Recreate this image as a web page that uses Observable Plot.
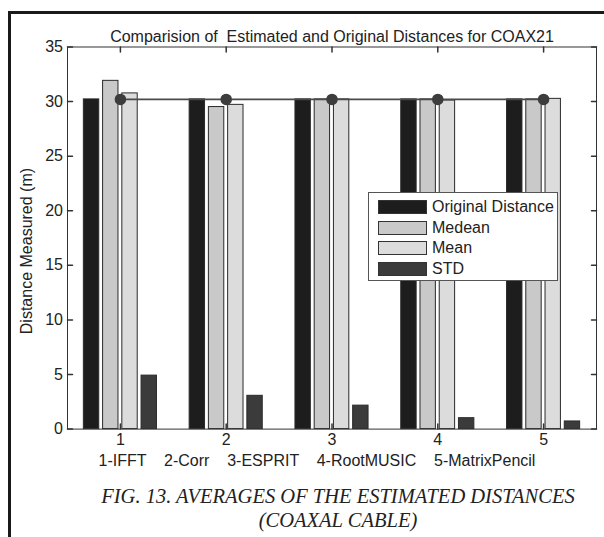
<!DOCTYPE html>
<html>
<head>
<meta charset="utf-8">
<script src="https://cdn.jsdelivr.net/npm/d3@7"></script>
<script src="https://cdn.jsdelivr.net/npm/@observablehq/plot@0.6"></script>
<style>
  body { margin: 0; background: #fff; }
  #page { position: relative; width: 604px; height: 537px; overflow: hidden; background: #fff;
          font-family: "Liberation Sans", Arial, sans-serif; color: #222; }
  #sheet { position: absolute; left: 8px; top: 11px; width: 700px; height: 600px;
           border-left: 3px solid #1a1a1a; border-top: 3px solid #1a1a1a; }
  #chart { position: absolute; left: 0; top: 0; }
  #chart svg text { white-space: pre; }
  #legend { position: absolute; left: 368px; top: 192px; width: 190px; height: 89px;
            box-sizing: border-box; border: 1px solid #555; background: #fff; }
  .row { position: absolute; left: 9px; height: 16px; display: flex; align-items: center; }
  .sw { width: 49px; height: 14px; border: 1px solid #333; box-sizing: border-box; margin-right: 5px; }
  .lab { font-size: 16px; color: #222; line-height: 16px; }
  #caption { position: absolute; left: 72px; width: 532px; top: 484px; text-align: center;
             font-family: "Liberation Serif", "Times New Roman", serif; font-style: italic;
             font-size: 20.5px; line-height: 24px; color: #222; white-space: nowrap; }
</style>
</head>
<body>
<div id="page">
  <div id="sheet"></div>
  <div id="chart"></div>
  <div id="legend"></div>
  <div id="caption">FIG. 13. AVERAGES OF THE ESTIMATED DISTANCES<br>(COAXAL CABLE)</div>
</div>
<script>
// Methods (x categories) and the measured distances per method
const groups = [1, 2, 3, 4, 5];
const methods = ["1-IFFT", "2-Corr", "3-ESPRIT", "4-RootMUSIC", "5-MatrixPencil"];
const seriesNames = ["Original Distance", "Medean", "Mean", "STD"];
const originalDistance = [30.2, 30.2, 30.2, 30.2, 30.2];
const medeanValues = [31.9, 29.5, 30.2, 30.2, 30.2];
const meanValues = [30.75, 29.7, 30.2, 30.1, 30.25];
const stdValues = [4.9, 3.05, 2.15, 1.0, 0.7];
const yTicks = [0, 5, 10, 15, 20, 25, 30, 35];
const titleText = "Comparision of  Estimated and Original Distances for COAX21";
const yLabel = "Distance Measured (m)";

const seriesFills = ["#1d1d1d", "#c9c9c9", "#dcdcdc", "#3b3b3b"];
const axisColor = "#333";
const fontSize = 16;

// Grouped-bar geometry (fraction of one category step)
const nSeries = seriesNames.length;
const groupWidth = Math.min(0.8, nSeries / (nSeries + 1.5));
const slot = groupWidth / nSeries;
const barWidth = slot * 0.8;

const seriesValues = [originalDistance, medeanValues, meanValues, stdValues];
const rows = [];
seriesValues.forEach((vals, j) => {
  vals.forEach((v, i) => {
    rows.push({group: groups[i], series: seriesNames[j], j, value: v});
  });
});
const center = d => d.group - groupWidth / 2 + (2 * d.j + 1) * slot / 2;

const points = groups.map((g, i) => ({group: g, value: originalDistance[i]}));

// short inward tick drawn from its anchor point
const tickShape = {draw(context, l) { context.moveTo(0, 0); context.lineTo(0, -l); }};

const chart = Plot.plot({
  width: 604,
  height: 478,
  marginLeft: 67,
  marginRight: 8,
  marginTop: 46.5,
  marginBottom: 49.4,
  style: {fontFamily: "'Liberation Sans', Arial, sans-serif", fontSize: fontSize + "px", color: "#222", background: "transparent"},
  x: {domain: [0.5, 5.5]},
  y: {domain: [0, 35]},
  marks: [
    Plot.rect(rows, {
      x1: d => center(d) - barWidth / 2,
      x2: d => center(d) + barWidth / 2,
      y1: 0,
      y2: "value",
      fill: d => seriesFills[d.j],
      stroke: "#2a2a2a",
      strokeWidth: 1
    }),
    Plot.line(points, {x: "group", y: "value", stroke: "#4a4a4a", strokeWidth: 1.6}),
    Plot.dot(points, {x: "group", y: "value", r: 5, fill: "#3d3d3d", stroke: "#3d3d3d"}),
    Plot.frame({stroke: axisColor, strokeWidth: 1}),
    // inward ticks on all four sides
    Plot.vector(yTicks, {y: d => d, frameAnchor: "left", length: 5, rotate: 90, anchor: "start", shape: tickShape, stroke: axisColor}),
    Plot.vector(yTicks, {y: d => d, frameAnchor: "right", length: 5, rotate: -90, anchor: "start", shape: tickShape, stroke: axisColor}),
    Plot.vector(groups, {x: d => d, frameAnchor: "top", length: 5, rotate: 180, anchor: "start", shape: tickShape, stroke: axisColor}),
    Plot.vector(groups, {x: d => d, frameAnchor: "bottom", length: 5, rotate: 0, anchor: "start", shape: tickShape, stroke: axisColor}),
    Plot.axisY({ticks: yTicks, tickSize: 0, tickPadding: 4.5, label: null, fontSize}),
    Plot.axisX({ticks: groups, tickSize: 0, tickPadding: 5, label: null, fontSize, tickFormat: d => String(d)}),
    Plot.text([titleText], {frameAnchor: "top", dy: -16.5, fontSize, fill: "#222"}),
    Plot.text([yLabel], {frameAnchor: "left", textAnchor: "middle", dx: -41, dy: 13, rotate: -90, fontSize, fill: "#222"}),
    Plot.text([methods.join("    ")], {frameAnchor: "bottom", dx: -15, dy: 37, fontSize, fill: "#222"})
  ]
});
document.getElementById("chart").appendChild(chart);

// Legend box
const legend = document.getElementById("legend");
seriesNames.forEach((name, j) => {
  const row = document.createElement("div");
  row.className = "row";
  row.style.top = (6 + j * 20.5) + "px";
  const sw = document.createElement("div");
  sw.className = "sw";
  sw.style.background = seriesFills[j];
  const lab = document.createElement("span");
  lab.className = "lab";
  lab.textContent = name;
  row.appendChild(sw);
  row.appendChild(lab);
  legend.appendChild(row);
});
</script>
</body>
</html>
